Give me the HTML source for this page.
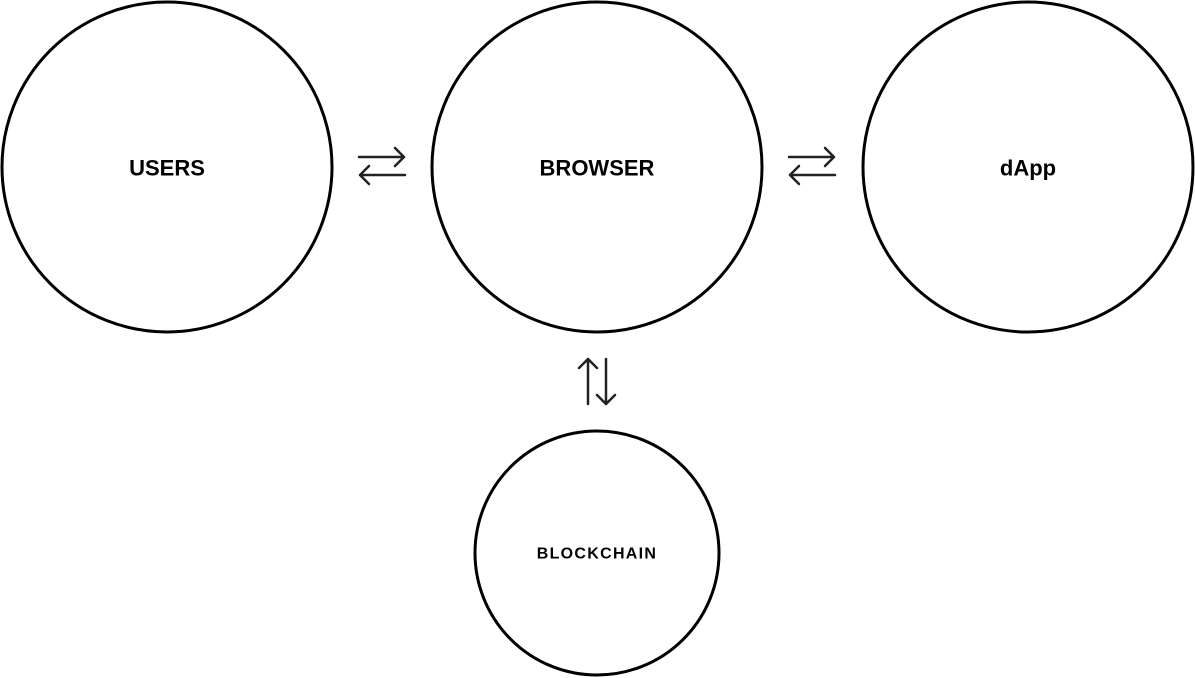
<!DOCTYPE html>
<html><head><style>
html,body{margin:0;padding:0;background:#fff;}
svg{display:block}
text{font-family:"Liberation Sans",Arial,sans-serif;font-weight:bold;fill:#000;text-anchor:middle;dominant-baseline:central}
</style></head><body>
<svg width="1195" height="678" viewBox="0 0 1195 678">
<g fill="none" stroke="#000" stroke-width="3">
<circle cx="167" cy="167" r="165"/>
<circle cx="597" cy="167" r="165"/>
<circle cx="1028" cy="167" r="165"/>
<circle cx="597" cy="553" r="122"/>
</g>
<g fill="none" stroke="#222" stroke-width="2.5" stroke-linecap="round" stroke-linejoin="round">
<path d="M359 157H404M395 148L404 157L395 166"/>
<path d="M360 175H405M369 166L360 175L369 184"/>
<path d="M789 157H834M825 148L834 157L825 166"/>
<path d="M790 175H835M799 166L790 175L799 184"/>
<path d="M588 359V404M579 368L588 359L597 368"/>
<path d="M606 359V404M597 395L606 404L615 395"/>
</g>
<text x="167" y="168" font-size="22">USERS</text>
<text x="597" y="168" font-size="22">BROWSER</text>
<text x="1028" y="168" font-size="22">dApp</text>
<text x="597" y="554" font-size="16" letter-spacing="1.3">BLOCKCHAIN</text>
</svg>
</body></html>
